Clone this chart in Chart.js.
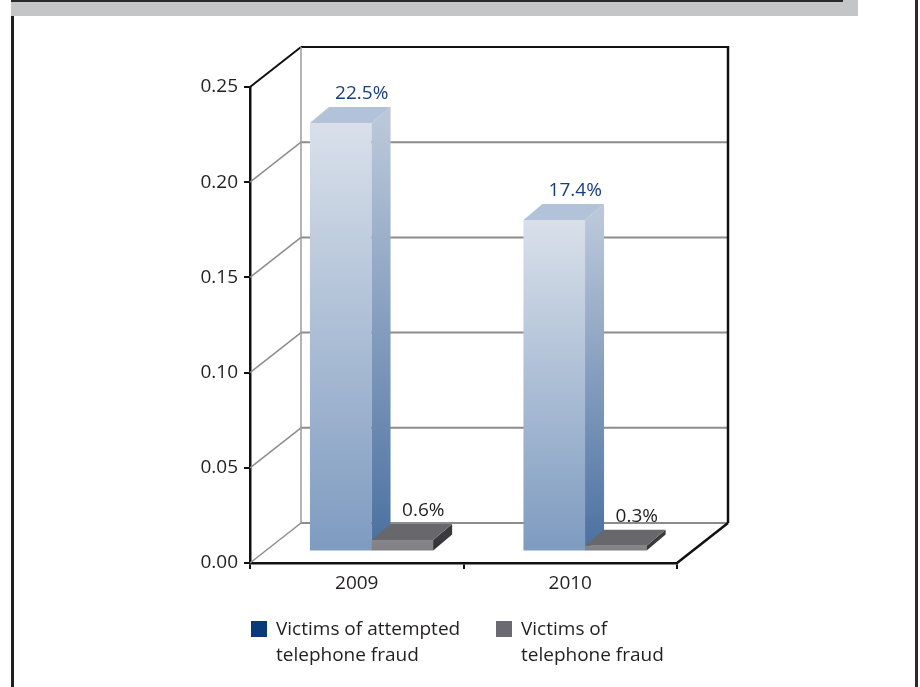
<!DOCTYPE html>
<html>
<head>
<meta charset="utf-8">
<script src="https://cdn.jsdelivr.net/npm/chart.js@4.4.1/dist/chart.umd.min.js"></script>
<style>
  body { margin:0; background:#fff; width:920px; height:687px; overflow:hidden; position:relative; }
  #band { position:absolute; left:11px; top:0; width:847px; height:16px; background:#c4c5c7; }
  #bandline { position:absolute; left:11px; top:0; width:832px; height:2px; background:#2a2a2c; }
  #lborder { position:absolute; left:11px; top:16px; width:3px; height:671px; background:#1e1e20; }
  #rborder { position:absolute; left:915px; top:0; width:3px; height:687px; background:#2a2a2c; }
  canvas { position:absolute; left:0; top:0; }
</style>
</head>
<body>
<div id="band"></div><div id="bandline"></div><div id="lborder"></div><div id="rborder"></div>
<canvas id="c" width="920" height="687"></canvas>
<script>
// data
const years = ['2009', '2010'];
const attempted = [0.225, 0.174];
const victims = [0.006, 0.003];
const valueLabels = [['22.5%', '17.4%'], ['0.6%', '0.3%']];
const seriesNames = [['Victims of attempted', 'telephone fraud'], ['Victims of', 'telephone fraud']];
const yTicks = [0, 0.05, 0.10, 0.15, 0.20, 0.25];

const FONT = "'Open Sans', 'Noto Sans', sans-serif";
const FS = 19;
const TXT = '#231f20';
const swatch = ['#0b3a7b', '#6b6a70'];
const labelColor = ['#173f7c', '#231f20'];
// front, side, top colours per series
const faces = [
  {front:['#d9e0ea', '#7e9bc0'], side:['#bac7d9', '#4a70a0'], top:'#b2c2d8'},
  {front:['#87878b', '#808084'], side:['#3a3a3c', '#2e2e30'], top:'#68686c'}
];

// 3d projection: wall depth and bar placement inside it
const WALL = {dx:51, dy:-40};
const BAR = {f:0.29, dx:19, dy:-16};

function line(ctx, x1, y1, x2, y2, col, w){
  ctx.beginPath(); ctx.moveTo(x1,y1); ctx.lineTo(x2,y2);
  ctx.strokeStyle = col; ctx.lineWidth = w; ctx.stroke();
}
function poly(ctx, pts, fill){
  ctx.beginPath(); ctx.moveTo(pts[0][0], pts[0][1]);
  pts.slice(1).forEach(p=>ctx.lineTo(p[0], p[1]));
  ctx.closePath(); ctx.fillStyle = fill; ctx.fill();
}

const box3d = {
  id:'box3d',
  beforeDatasetsDraw(chart){
    const {ctx, chartArea:a, scales:{y}} = chart;
    const dx = WALL.dx, dy = WALL.dy;
    ctx.save();
    yTicks.forEach((v,i)=>{
      const py = y.getPixelForValue(v);
      const top = i === yTicks.length-1;
      line(ctx, a.left+dx, py+dy, a.right+dx, py+dy, top ? '#111' : '#8c8c8c', 2);
      if (!top && i > 0) line(ctx, a.left, py, a.left+dx, py+dy, '#8c8c8c', 1.5);
    });
    // floor left edge, top of left wall
    line(ctx, a.left, a.bottom, a.left+dx, a.bottom+dy, '#8c8c8c', 1.5);
    line(ctx, a.left, a.top, a.left+dx, a.top+dy, '#111', 2);
    // back wall verticals
    line(ctx, a.left+dx, a.top+dy, a.left+dx, a.bottom+dy, '#9a9a9a', 1.5);
    line(ctx, a.right+dx, a.top+dy-1, a.right+dx, a.bottom+dy, '#111', 2.5);
    // floor right edge
    line(ctx, a.right, a.bottom, a.right+dx, a.bottom+dy, '#111', 2.5);
    ctx.restore();
  },
  afterDatasetsDraw(chart){
    const {ctx} = chart;
    const ox = BAR.f*WALL.dx, oy = BAR.f*WALL.dy;
    ctx.save();
    years.forEach((yr, i)=>{
      chart.data.datasets.forEach((ds, di)=>{
        const el = chart.getDatasetMeta(di).data[i];
        const {x, y, base, width} = el.getProps(['x','y','base','width'], true);
        const l = x - width/2 + ox, r = x + width/2 + ox;
        const t = y + oy, b = base + oy;
        const f = faces[di];
        let g = ctx.createLinearGradient(0, t, 0, b);
        g.addColorStop(0, f.front[0]); g.addColorStop(1, f.front[1]);
        poly(ctx, [[l,t],[r,t],[r,b],[l,b]], g);
        g = ctx.createLinearGradient(0, t, 0, b);
        g.addColorStop(0, f.side[0]); g.addColorStop(1, f.side[1]);
        poly(ctx, [[r,t],[r+BAR.dx,t+BAR.dy],[r+BAR.dx,b+BAR.dy],[r,b]], g);
        poly(ctx, [[l,t],[l+BAR.dx,t+BAR.dy],[r+BAR.dx,t+BAR.dy],[r,t]], f.top);
        // value label above the back edge of the bar
        ctx.font = `${FS}px ${FONT}`;
        ctx.fillStyle = labelColor[di];
        ctx.textAlign = 'center'; ctx.textBaseline = 'alphabetic';
        ctx.fillText(valueLabels[di][i], (l+r)/2 + BAR.dx + 2, t + BAR.dy - 8);
      });
    });
    ctx.restore();
  },
  afterDraw(chart){
    const {ctx, chartArea:a} = chart;
    ctx.save();
    ctx.font = `${FS}px ${FONT}`;
    ctx.textAlign = 'left'; ctx.textBaseline = 'alphabetic';
    const xs = [a.left+1, 496];
    seriesNames.forEach((lines, k)=>{
      ctx.fillStyle = swatch[k];
      ctx.fillRect(xs[k], a.bottom+58, 16, 16);
      ctx.fillStyle = TXT;
      lines.forEach((s, j)=>ctx.fillText(s, xs[k]+25, a.bottom+72+j*26));
    });
    ctx.restore();
  }
};

new Chart(document.getElementById('c'), {
  type:'bar',
  data:{
    labels: years,
    datasets:[
      {label: seriesNames[0].join(' '), data: attempted, backgroundColor:'rgba(0,0,0,0)', categoryPercentage:0.577, barPercentage:1},
      {label: seriesNames[1].join(' '), data: victims, backgroundColor:'rgba(0,0,0,0)', categoryPercentage:0.577, barPercentage:1}
    ]
  },
  options:{
    responsive:false, animation:false, events:[],
    layout:{padding:{left:0, top:87, right:243, bottom:0}},
    plugins:{legend:{display:false}, tooltip:{enabled:false}},
    scales:{
      x:{
        offset:true,
        grid:{offset:true, drawOnChartArea:false, tickLength:6, color:'#111', lineWidth:2},
        border:{display:true, color:'#111', width:2.5},
        ticks:{font:{family:FONT, size:FS}, color:TXT, padding:3},
        afterFit(s){ s.height = 124; }
      },
      y:{
        min:0, max:0.25,
        afterBuildTicks(s){ s.ticks = yTicks.map(v=>({value:v})); },
        grid:{drawOnChartArea:false, tickLength:6, color:'#111', lineWidth:2},
        border:{display:true, color:'#111', width:2.5},
        ticks:{font:{family:FONT, size:FS}, color:TXT, padding:6, callback:v=>v.toFixed(2)},
        afterFit(s){ s.width = 250; }
      }
    }
  },
  plugins:[box3d]
});
</script>
</body>
</html>
